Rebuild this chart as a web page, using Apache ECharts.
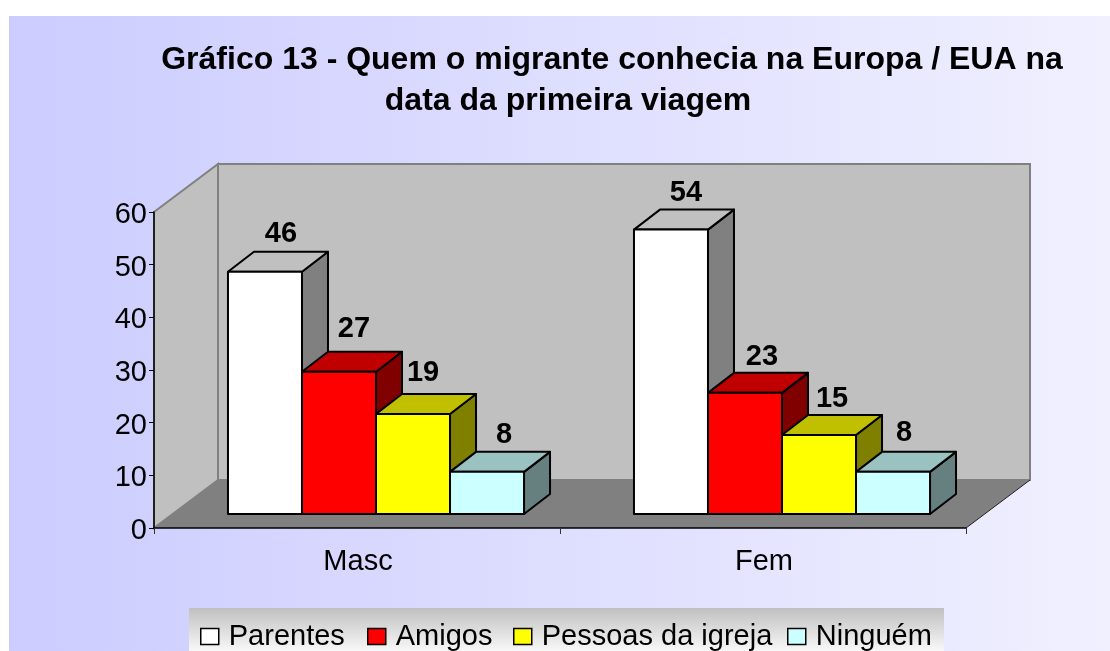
<!DOCTYPE html>
<html><head><meta charset="utf-8">
<script src="https://cdn.jsdelivr.net/npm/echarts@6/dist/echarts.min.js"></script>
<style>html,body{margin:0;padding:0;background:#fff}#c{width:1110px;height:651px}</style>
</head><body><div id="c"></div>
<script>
const categories = ['Masc', 'Fem'];
const seriesNames = ['Parentes', 'Amigos', 'Pessoas da igreja', 'Ninguém'];
const parentes = [46, 54];
const amigos = [27, 23];
const igreja = [19, 15];
const ninguem = [8, 8];
const seriesValues = [parentes, amigos, igreja, ninguem];
const titleLine1 = 'Gráfico 13 - Quem o migrante conhecia na Europa / EUA na';
const titleLine2 = 'data da primeira viagem';

const FONT = '"Liberation Sans", Arial, sans-serif';
const faces = [
  {front:'#FFFFFF', top:'#C0C0C0', side:'#808080'},
  {front:'#FF0000', top:'#C00000', side:'#800000'},
  {front:'#FFFF00', top:'#C0C000', side:'#808000'},
  {front:'#CCFFFF', top:'#99C2C0', side:'#668080'}
];
const WALL_DX = 64, WALL_DY = 48;       // depth of the chart box
const BAR_SHIFT_X = 19, BAR_SHIFT_Y = 14; // bars stand inside the floor
const BAR_DX = 26, BAR_DY = 20;         // depth of a bar
const BAR_RATIO = 0.1823;
// small per-label nudges (px) relative to each bar's top: [series][category]
const labelNudgeX = [[3,2],[2,4],[-3,0],[4,-2]];
const labelNudgeY = [[2,3],[-3,4],[-1,4],[3,1]];
const legendLeft = [200, 367, 513, 787];

function frameItem(params, api) {
  const g = params.coordSys, x0 = g.x, x1 = g.x + g.width, yT = g.y, yB = g.y + g.height;
  const dx = WALL_DX, dy = WALL_DY;
  const wall = {fill:'#C0C0C0', stroke:'#808080', lineWidth:2};
  return {type:'group', children:[
    {type:'polygon', shape:{points:[[x0,yT],[x0+dx,yT-dy],[x0+dx,yB-dy],[x0,yB]]}, style:wall},
    {type:'polygon', shape:{points:[[x0+dx,yT-dy],[x1+dx,yT-dy],[x1+dx,yB-dy],[x0+dx,yB-dy]]}, style:wall},
    {type:'polygon', shape:{points:[[x0,yB],[x0+dx,yB-dy],[x1+dx,yB-dy],[x1,yB]]}, style:{fill:'#808080'}},
    {type:'line', shape:{x1:x1,y1:yB,x2:x1+dx,y2:yB-dy}, style:{stroke:'#202020',lineWidth:1}}
  ]};
}
function barRenderer(si) {
  return function (params, api) {
    const cat = api.value(0), v = api.value(1);
    const top = api.coord([cat, v]), base = api.coord([cat, 0]);
    const w = api.size([1, 0])[0] * BAR_RATIO;
    const xL = top[0] - 2 * w + si * w + BAR_SHIFT_X, xR = xL + w;
    const yT = top[1] - BAR_SHIFT_Y, yB = base[1] - BAR_SHIFT_Y;
    const f = faces[si], line = {stroke:'#000', lineWidth:2, lineJoin:'round'};
    return {type:'group', children:[
      {type:'polygon', shape:{points:[[xR,yT],[xR+BAR_DX,yT-BAR_DY],[xR+BAR_DX,yB-BAR_DY],[xR,yB]]}, style:Object.assign({fill:f.side},line)},
      {type:'polygon', shape:{points:[[xL,yT],[xL+BAR_DX,yT-BAR_DY],[xR+BAR_DX,yT-BAR_DY],[xR,yT]]}, style:Object.assign({fill:f.top},line)},
      {type:'rect', shape:{x:xL,y:yT,width:w,height:yB-yT}, style:Object.assign({fill:f.front},line)},
      {type:'text', style:{text:String(v), x:(xL+xR)/2+BAR_DX/2+labelNudgeX[si][cat], y:yT-BAR_DY-20+labelNudgeY[si][cat], align:'center', verticalAlign:'middle',
        font:'bold 29px '+FONT, fill:'#000'}}
    ]};
  };
}
const chart = echarts.init(document.getElementById('c'), null, {renderer:'canvas'});
chart.setOption({
  animation:false,
  graphic:[
    {type:'rect', z:-10, shape:{x:9,y:16,width:1101,height:635},
     style:{fill:new echarts.graphic.LinearGradient(0,0,1,0,[{offset:0,color:'#CCCCFF'},{offset:1,color:'#F0F0FF'}])}},
    {type:'rect', z:-9, shape:{x:189,y:608,width:755,height:43},
     style:{fill:new echarts.graphic.LinearGradient(0,0,0,1,[{offset:0,color:'#C0C0C0'},{offset:1,color:'#F8F8F8'}])}}
  ],
  title:[
    {text:titleLine1, left:607, top:39, textAlign:'center', textStyle:{fontFamily:FONT,fontWeight:'bold',fontSize:32,color:'#000'}},
    {text:titleLine2, left:563, top:80, textAlign:'center', textStyle:{fontFamily:FONT,fontWeight:'bold',fontSize:32,color:'#000'}}
  ],
  grid:{left:154,right:144,top:212,bottom:123,containLabel:false},
  legend:seriesNames.map((name,i)=>({left:legendLeft[i],top:622,padding:0,icon:'rect',itemWidth:18,itemHeight:16,
    data:[name],
    selectedMode:false,
    textStyle:{fontFamily:FONT,fontSize:29,color:'#000',padding:[0,0,0,5]},
    itemStyle:{borderColor:'#000',borderWidth:1.5}})),
  xAxis:{type:'category',data:categories,z:5,
    axisLine:{lineStyle:{color:'#000',width:1.5}},
    axisTick:{show:true,length:6,alignWithLabel:false,lineStyle:{color:'#333',width:1}},
    axisLabel:{fontFamily:FONT,fontSize:29,color:'#000',margin:19,padding:[0,0,0,2]},
    splitLine:{show:false}},
  yAxis:{type:'value',min:0,max:60,interval:10,z:5,
    axisLine:{show:true,lineStyle:{color:'#000',width:1.5}},
    axisTick:{show:true,length:5,lineStyle:{color:'#000',width:1}},
    axisLabel:{margin:7,formatter:'{t|{value}}',
      rich:{t:{fontFamily:FONT,fontSize:29,color:'#000',padding:[6,0,0,0]}}},
    splitLine:{show:false}},
  series:[
    {type:'custom',name:'frame',silent:true,clip:false,z:1,data:[[0,0]],renderItem:frameItem,encode:{x:0,y:1}}
  ].concat(seriesNames.map((name,si)=>({
    type:'custom',name,clip:false,z:2+si,
    itemStyle:{color:faces[si].front},
    renderItem:barRenderer(si),
    encode:{x:0,y:1},
    data:seriesValues[si].map((v,i)=>[i,v])
  })))
});
</script></body></html>
